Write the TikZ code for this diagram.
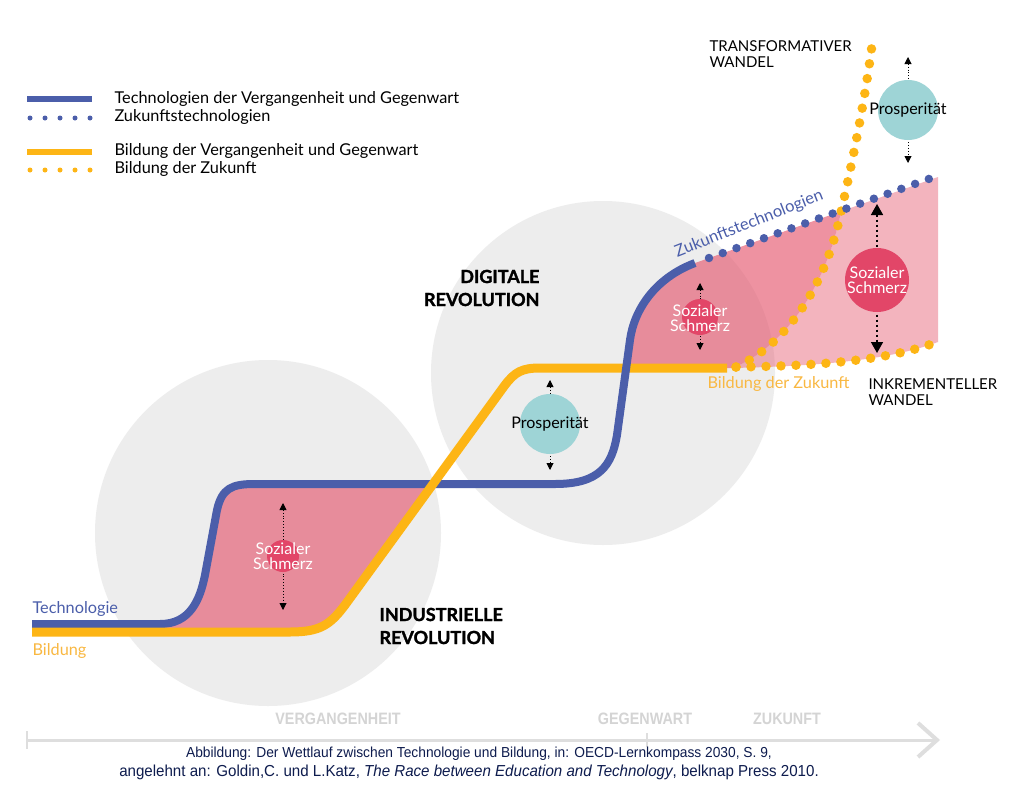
\documentclass[tikz,border=0pt]{standalone}
\usepackage{fontspec}
\setmainfont{Lato}
\newfontfamily\heavyfont{Lato}[BoldFeatures={FakeBold=1.6}]
\newfontfamily\capfont[FakeStretch=0.95]{Liberation Sans}
\newfontfamily\axfont[FakeStretch=0.87]{Liberation Sans}
\usetikzlibrary{arrows.meta}
\definecolor{techblue}{RGB}{75,94,170}
\definecolor{eduyellow}{RGB}{253,181,21}
\definecolor{labyellow}{RGB}{249,184,66}
\definecolor{bggray}{RGB}{237,237,237}
\definecolor{painpink}{RGB}{229,89,112}
\definecolor{painred}{RGB}{226,70,104}
\definecolor{prosteal}{RGB}{158,212,214}
\definecolor{axisgray}{RGB}{222,222,222}
\definecolor{axislabel}{RGB}{212,212,212}
\definecolor{capnavy}{RGB}{14,28,78}
\begin{document}
\begin{tikzpicture}[x=1pt,y=-1pt,
  techline/.style={draw=techblue,line width=8pt},
  eduline/.style={draw=eduyellow,line width=9pt},
  techdots/.style={draw=techblue,line width=8.5pt,line cap=round,dash pattern=on 0pt off 14.6pt},
  edudots/.style={draw=eduyellow,line width=9.5pt,line cap=round,dash pattern=on 0pt off 15pt},
  era/.style={circle,fill=bggray,inner sep=0pt},
  painball/.style={circle,fill=painred,inner sep=0pt},
  prosball/.style={circle,fill=prosteal,inner sep=0pt},
  paintext/.style={text=white,align=center,font=\fontsize{16}{15.5}\selectfont},
  prostext/.style={text=black,font=\fontsize{16}{16}\selectfont},
  vspan/.style={dotted,line width=0.9pt,{Triangle[width=7pt,length=7pt]}-{Triangle[width=7pt,length=7pt]}},
  bigspan/.style={dash pattern=on 2.5pt off 2.5pt,line width=1.6pt,{Triangle[width=12pt,length=11pt]}-{Triangle[width=12pt,length=11pt]}},
  legtext/.style={anchor=west,font=\fontsize{16.3}{18}\selectfont},
  revo/.style={font=\heavyfont\fontsize{18}{23}\selectfont\bfseries},
  wandel/.style={anchor=west,align=left,font=\fontsize{15}{15.5}\selectfont},
  axlab/.style={text=axislabel,font=\axfont\bfseries\fontsize{16.5}{16}\selectfont},
  capline/.style={text=capnavy,font=\capfont\fontsize{14.5}{16}\selectfont}
]
\useasboundingbox (0,0) rectangle (1024,784);
\fill[white] (0,0) rectangle (1024,784);

% era circles
\node[era,minimum size=346pt] (indcircle) at (268,533) {};
\node[era,minimum size=344pt] (digcircle) at (603,373) {};

% pink regions
\fill[painpink,opacity=0.65] (160,624) .. controls (190,624) and (200,600) .. (205,575) -- (217,510) .. controls (222,488) and (232,484) .. (255,484) -- (433,484) -- (345,605) .. controls (330,625) and (320,632) .. (290,632) -- (160,632) -- cycle;
\begin{scope}
\clip (745,420) -- (735,367) .. controls (785,345) and (822,290) .. (838,225) .. controls (852,165) and (865,100) .. (872,45) -- (580,45) -- (580,420) -- cycle;
\fill[painpink,opacity=0.65] (626.2,368) -- (630,340) .. controls (634,310) and (655,278) .. (695,263) -- (938,177) -- (938,342) .. controls (890,360) and (820,366) .. (733,368) -- cycle;
\end{scope}
\begin{scope}
\clip (745,420) -- (735,367) .. controls (785,345) and (822,290) .. (838,225) .. controls (852,165) and (865,100) .. (872,45) -- (990,45) -- (990,420) -- cycle;
\fill[painpink,opacity=0.45] (626.2,368) -- (630,340) .. controls (634,310) and (655,278) .. (695,263) -- (938,177) -- (938,342) .. controls (890,360) and (820,366) .. (733,368) -- cycle;
\end{scope}

% coordinates of the curves
\coordinate (t0) at (32,624);
\coordinate (t1) at (555,484);
\coordinate (t2) at (695,263);
\coordinate (tf0) at (709,258);
\coordinate (tf1) at (937,176);
\coordinate (e0) at (32,632);
\coordinate (e1) at (727,368);
\coordinate (ef0) at (736,367);
\coordinate (ei1) at (937,342);
\coordinate (et1) at (872,45);

% main lines
\draw[techline] (t0) -- (160,624) .. controls (190,624) and (200,600) .. (205,575) -- (217,510) .. controls (222,488) and (232,484) .. (255,484) -- (t1);
\draw[eduline] (e0) -- (290,632) .. controls (320,632) and (330,625) .. (345,605) -- (505,385) .. controls (515,372) and (522,368) .. (540,368) -- (e1);
\draw[techline] (t1) .. controls (600,484) and (612,465) .. (617,435) -- (630,340) .. controls (634,310) and (655,278) .. (t2);

% future lines
\draw[edudots] (ef0) .. controls (820,366) and (890,360) .. (ei1);
\draw[edudots] (ef0) .. controls (785,345) and (822,290) .. (838,225) .. controls (852,165) and (865,100) .. (et1);
\draw[techdots] (tf0) -- (tf1);

% industrial: social pain
\coordinate (ipa) at (283,503);
\coordinate (ipb) at (283,610);
\draw[vspan] (ipa) -- (ipb);
\node[painball,minimum size=32pt] (ipball) at (283,556) {};
\node[paintext] (iptext) at (283,556) {Sozialer\\Schmerz};

% digital: prosperity
\coordinate (dpa) at (550,380);
\coordinate (dpb) at (550,470);
\draw[vspan] (dpa) -- (dpb);
\node[prosball,minimum size=60pt] (dpball) at (550,424) {};
\node[prostext] (dptext) at (550,424) {Prosperität};

% digital: social pain
\coordinate (dsa) at (700,283);
\coordinate (dsb) at (700,350);
\draw[vspan] (dsa) -- (dsb);
\node[painball,minimum size=36pt] (dsball) at (700,317) {};
\node[paintext] (dstext) at (700,318) {Sozialer\\Schmerz};

% future: social pain
\coordinate (fsa) at (877,204);
\coordinate (fsb) at (877,353);
\draw[bigspan] (fsa) -- (fsb);
\node[painball,minimum size=64pt] (fsball) at (877,280) {};
\node[paintext] (fstext) at (877,280) {Sozialer\\Schmerz};

% future: prosperity
\coordinate (fpa) at (908,57);
\coordinate (fpb) at (908,163);
\draw[vspan] (fpa) -- (fpb);
\node[prosball,minimum size=60pt] (fpball) at (908,110) {};
\node[prostext] (fptext) at (908,110) {Prosperität};

% legend
\coordinate (l1a) at (27,99);  \coordinate (l1b) at (92,99);
\coordinate (l2a) at (30,118); \coordinate (l2b) at (90.5,118);
\coordinate (l3a) at (27,152); \coordinate (l3b) at (92,152);
\coordinate (l4a) at (30,170); \coordinate (l4b) at (90.5,170);
\draw[techblue,line width=6pt] (l1a) -- (l1b);
\draw[techblue,line width=5pt,line cap=round,dash pattern=on 0pt off 15pt] (l2a) -- (l2b);
\draw[eduyellow,line width=6pt] (l3a) -- (l3b);
\draw[eduyellow,line width=5pt,line cap=round,dash pattern=on 0pt off 15pt] (l4a) -- (l4b);
\node[legtext] (lg1) at (111,99) {Technologien der Vergangenheit und Gegenwart};
\node[legtext] (lg2) at (111,117) {Zukunftstechnologien};
\node[legtext] (lg3) at (111,151) {Bildung der Vergangenheit und Gegenwart};
\node[legtext] (lg4) at (111,169) {Bildung der Zukunft};

% labels
\node[revo,anchor=east,align=right] (digi) at (543,288) {DIGITALE\\REVOLUTION};
\node[revo,anchor=west,align=left] (indu) at (376,626) {INDUSTRIELLE\\REVOLUTION};
\node[wandel] (trans) at (706,54) {TRANSFORMATIVER\\WANDEL};
\node[wandel] (inkr) at (865,392) {INKREMENTELLER\\WANDEL};
\node[anchor=west,text=techblue,font=\fontsize{16.3}{18}\selectfont] (techlab) at (29,609) {Technologie};
\node[anchor=west,text=labyellow,font=\fontsize{16.3}{18}\selectfont] (edulab) at (29,651) {Bildung};
\node[anchor=west,text=labyellow,font=\fontsize{16.3}{18}\selectfont] (edufut) at (704,384) {Bildung der Zukunft};
\node[rotate=21.5,text=techblue,font=\fontsize{16.5}{18}\selectfont] (techfut) at (749,224) {Zukunftstechnologien};

% time axis
\coordinate (ax0) at (27,740);
\coordinate (ax1) at (935,740);
\coordinate (tk0a) at (27,731); \coordinate (tk0b) at (27,749);
\coordinate (tk1a) at (647,733); \coordinate (tk1b) at (647,747);
\coordinate (ch0) at (918,723); \coordinate (ch1) at (937,740); \coordinate (ch2) at (918,757);
\draw[axisgray,line width=3pt] (ax0) -- (ax1);
\draw[axisgray,line width=2pt] (tk0a) -- (tk0b);
\draw[axisgray,line width=1.5pt] (tk1a) -- (tk1b);
\draw[axisgray,line width=4pt,miter limit=10] (ch0) -- (ch1) -- (ch2);
\node[axlab] (past) at (338,719) {VERGANGENHEIT};
\node[axlab] (now) at (645,719) {GEGENWART};
\node[axlab] (future) at (787,719) {ZUKUNFT};

% caption
\node[capline] (cap1) at (479,754) {Abbildung: Der Wettlauf zwischen Technologie und Bildung, in: OECD-Lernkompass 2030, S. 9,};
\node[capline,font=\capfont\fontsize{15.9}{17}\selectfont] (cap2) at (469,772) {angelehnt an: Goldin,C. und L.Katz, \textit{The Race between Education and Technology}, belknap Press 2010.};
\end{tikzpicture}
\end{document}
